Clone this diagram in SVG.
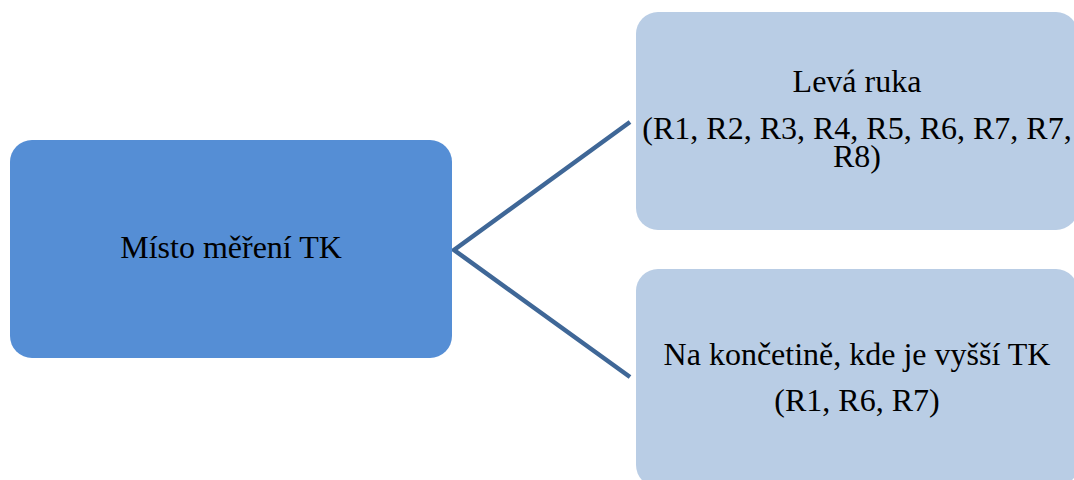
<svg xmlns="http://www.w3.org/2000/svg" width="1074" height="480" viewBox="0 0 1074 480">
  <style>
    text { font-family: 'Liberation Serif', 'Times New Roman', Times, serif; font-size: 32px; fill: #000; text-anchor: middle; }
    .root { fill: #558ed5; }
    .leaf { fill: #b9cde5; }
    .link { fill: none; stroke: #3f6797; stroke-width: 4.5; stroke-linejoin: miter; }
  </style>
  <g id="connectors">
    <polyline class="link" points="630,122 454,250 630,377"/>
  </g>
  <g id="node-misto">
    <rect class="root" x="10" y="140" width="442" height="218" rx="22" ry="22"/>
    <text x="231" y="258" font-family="Liberation Serif, serif">Místo měření TK</text>
  </g>
  <g id="node-leva-ruka">
    <rect class="leaf" x="636" y="12" width="442" height="218" rx="22" ry="22"/>
    <text x="857" y="92" font-family="Liberation Serif, serif">Levá ruka</text>
    <text x="857" y="139" font-family="Liberation Serif, serif">(R1, R2, R3, R4, R5, R6, R7, R7,</text>
    <text x="857" y="167" font-family="Liberation Serif, serif">R8)</text>
  </g>
  <g id="node-koncetina">
    <rect class="leaf" x="636" y="269" width="442" height="218" rx="22" ry="22"/>
    <text x="857" y="365" font-family="Liberation Serif, serif">Na končetině, kde je vyšší TK</text>
    <text x="857" y="411" font-family="Liberation Serif, serif">(R1, R6, R7)</text>
  </g>
</svg>
